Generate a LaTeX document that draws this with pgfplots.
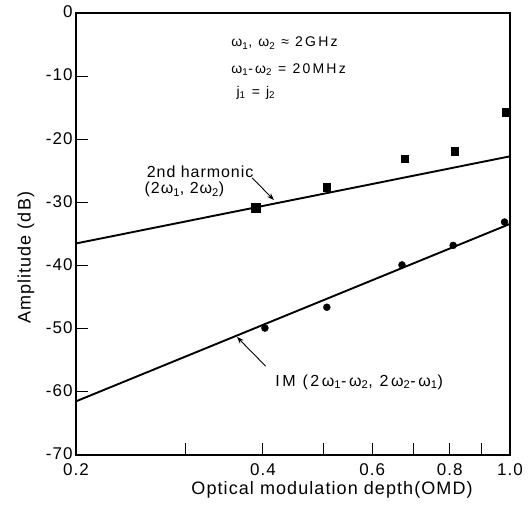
\documentclass[border=0pt]{standalone}
\usepackage{pgfplots}
\pgfplotsset{compat=1.18}
\usepackage{fontspec}
\setmainfont{Liberation Sans}
\newfontfamily\spA[LetterSpace=6]{Liberation Sans}
\newfontfamily\spB[LetterSpace=16]{Liberation Sans}
\usetikzlibrary{arrows.meta}
\begin{document}
\begin{tikzpicture}
\begin{axis}[
  scale only axis,
  width=434pt, height=442pt,
  xmode=log,
  xmin=0.2, xmax=1.0,
  ymin=-70, ymax=0,
  xtick={0.2,0.3,0.4,0.5,0.6,0.7,0.8,0.9,1.0},
  xticklabels={0.2,,0.4,,0.6,,0.8,,1.0},
  ytick={-70,-60,-50,-40,-30,-20,-10,0},
  yticklabels={-70,-60,-50,-40,-30,-20,-10,0},
  xtick pos=bottom, ytick pos=left,
  tick align=inside,
  major tick length=12pt,
  tick style={line width=1pt, black},
  axis line style={line width=1.3pt},
  ticklabel style={font=\fontsize{17}{19}\spA},
  xticklabel style={yshift=-5pt},
  yticklabel style={yshift=1pt},
  /pgf/number format/assume math mode=true,
  xlabel={Optical modulation depth(OMD)},
  ylabel={Amplitude (dB)},
  label style={font=\fontsize{18}{21}\spA},
  xlabel style={at={(rel axis cs:0.59,0)}, anchor=north, yshift=-23pt},
  ylabel style={at={(rel axis cs:0,0.446)}, anchor=south, yshift=38pt},
  clip=false,
]
% 2nd harmonic data
\addplot[only marks, mark=square*, mark size=3.6pt, black] coordinates {
 (0.507,-27.6) (0.677,-23.1) (0.815,-21.9) (0.985,-15.7)
};
\addplot[only marks, mark=square*, mark size=4.5pt, black] coordinates {
 (0.39,-30.9)
};
% IM data
\addplot[only marks, mark=*, mark size=3.5pt, black] coordinates {
 (0.403,-49.9) (0.507,-46.6) (0.670,-39.9) (0.81,-36.8) (0.98,-33.1)
};
% fitted lines
\addplot[black, line width=1.9pt] coordinates {(0.2,-36.5) (1.0,-22.7)};
\addplot[black, line width=1.9pt] coordinates {(0.2,-61.5) (1.0,-33.4)};

\node[anchor=west, font=\fontsize{14}{16}\spB] at (rel axis cs:0.350,0.932) {ω\textsubscript{1}, ω\textsubscript{2} ≈ 2GHz};
\node[anchor=west, font=\fontsize{14}{16}\spB] at (rel axis cs:0.350,0.871) {ω\textsubscript{1}-ω\textsubscript{2} = 20MHz};
\node[anchor=west, font=\fontsize{14}{16}\spB] at (rel axis cs:0.362,0.819) {j\textsubscript{1} = j\textsubscript{2}};

\node[anchor=west, font=\fontsize{16}{18}\spA] at (rel axis cs:0.155,0.640) {2nd harmonic};
\node[anchor=west, font=\fontsize{16}{18}\spA] at (rel axis cs:0.150,0.600) {(2ω\textsubscript{1}, 2ω\textsubscript{2})};
\draw[-{Stealth[length=7pt]}, line width=0.9pt] (rel axis cs:0.406,0.627) -- (rel axis cs:0.456,0.577);

\node[anchor=west, font=\fontsize{16}{18}\spB] at (rel axis cs:0.451,0.165) {IM (2ω\textsubscript{1}-ω\textsubscript{2}, 2ω\textsubscript{2}-ω\textsubscript{1})};
\draw[-{Stealth[length=7pt]}, line width=0.9pt] (rel axis cs:0.437,0.201) -- (rel axis cs:0.371,0.267);
\end{axis}
\pgfresetboundingbox
\path (-76pt,-54pt) rectangle (455pt,455pt);
\end{tikzpicture}
\end{document}
